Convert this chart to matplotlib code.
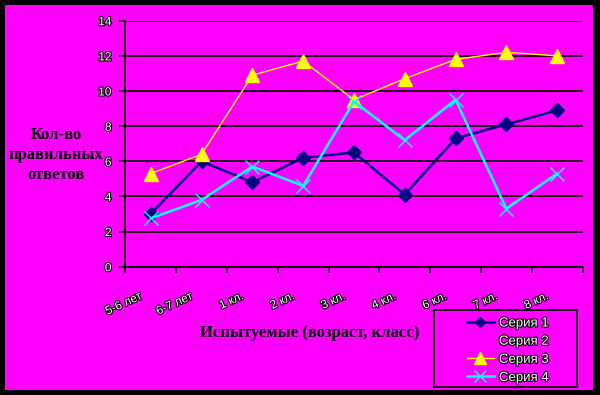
import numpy as np
import matplotlib
matplotlib.use("Agg")
import matplotlib.pyplot as plt
import matplotlib.patheffects as pe
from matplotlib.patches import Rectangle
from matplotlib.transforms import ScaledTranslation

categories = ["5-6 лет", "6-7 лет", "1 кл.", "2 кл.", "3 кл.", "4 кл.", "6 кл.", "7 кл.", "8 кл."]
seria1 = [3.0, 6.0, 4.8, 6.2, 6.5, 4.1, 7.3, 8.1, 8.9]
seria2 = []
seria3 = [5.3, 6.4, 10.9, 11.7, 9.5, 10.7, 11.8, 12.2, 12.0]
seria4 = [2.75, 3.8, 5.7, 4.6, 9.4, 7.2, 9.5, 3.3, 5.3]
series_names = ["Серия 1", "Серия 2", "Серия 3", "Серия 4"]

bg = "#ff00ff"
outline = [pe.withStroke(linewidth=1.6, foreground="black")]

fig = plt.figure(figsize=(6, 3.95), dpi=100, facecolor="black")
fig.patches.append(Rectangle((5 / 600, 5 / 395), 588 / 600, 385 / 395,
                             transform=fig.transFigure, facecolor=bg,
                             edgecolor="none", zorder=-10))

ax = fig.add_axes([0.209, 0.3248, 0.762, 0.6228])
ax.set_facecolor(bg)

x = np.arange(len(categories))
ax.plot(x, seria1, color="#000080", lw=1.8, marker="D", ms=7, label=series_names[0])
ax.plot([], [], color=bg, lw=1.8, label=series_names[1])
ax.plot(x, seria3, color="#ffff00", lw=1.0, marker="^", ms=10, label=series_names[2])
ax.plot(x, seria4, color="#00ffff", lw=1.8, marker="x", ms=10, mew=1.0, label=series_names[3])

ax.set_xlim(-0.5, len(categories) - 0.5)
ax.set_ylim(0, 14)
ax.set_yticks(np.arange(0, 15, 2))
ax.yaxis.grid(True, color="black", lw=1.2)
ax.set_axisbelow(True)

for s in ["top", "right"]:
    ax.spines[s].set_visible(False)
for s in ["left", "bottom"]:
    ax.spines[s].set_color("black")
    ax.spines[s].set_linewidth(1.2)

ax.set_xticks(np.arange(len(categories) + 1) - 0.5)
ax.set_xticklabels([])
ax.tick_params(axis="x", which="major", length=4, width=1.2, color="black")
ax.set_xticks(x, minor=True)
ax.set_xticklabels(categories, minor=True, rotation=25, ha="right", va="top",
                   rotation_mode="anchor", fontsize=8.5, family="Liberation Sans",
                   color="white")
ax.tick_params(axis="x", which="minor", length=0, pad=17)
for lbl in ax.get_xticklabels(minor=True):
    lbl.set_path_effects(outline)
    lbl.set_transform(lbl.get_transform() + ScaledTranslation(-0.12, 0, fig.dpi_scale_trans))

ax.tick_params(axis="y", length=4, width=1.2, color="black", pad=6)
for lbl in ax.get_yticklabels():
    lbl.set_fontsize(8.5)
    lbl.set_family("Liberation Sans")
    lbl.set_color("white")
    lbl.set_path_effects(outline)

fig.text(56 / 600, 1 - 155 / 395, "Кол-во\nправильных\nответов", ha="center", va="center",
         family="Liberation Serif", fontweight="bold", fontsize=12, linespacing=1.3)
fig.text(310 / 600, 1 - 333 / 395, "Испытуемые (возраст, класс)", ha="center", va="center",
         family="Liberation Serif", fontweight="bold", fontsize=12)

fig.patches.append(Rectangle((434 / 600, 1 - 387 / 395), 143 / 600, 77 / 395,
                             transform=fig.transFigure, facecolor="none",
                             edgecolor="black", lw=1.2, zorder=5))
leg = fig.legend(loc="upper left", bbox_to_anchor=(462 / 600, 1 - 312 / 395),
                 frameon=False, handlelength=2.0, handletextpad=0.4, markerscale=0.8,
                 labelspacing=0.45, borderaxespad=0, prop={"family": "Liberation Sans", "size": 9.5})
for t in leg.get_texts():
    t.set_color("white")
    t.set_path_effects(outline)

fig.savefig("out.png", dpi=100, facecolor=fig.get_facecolor())
